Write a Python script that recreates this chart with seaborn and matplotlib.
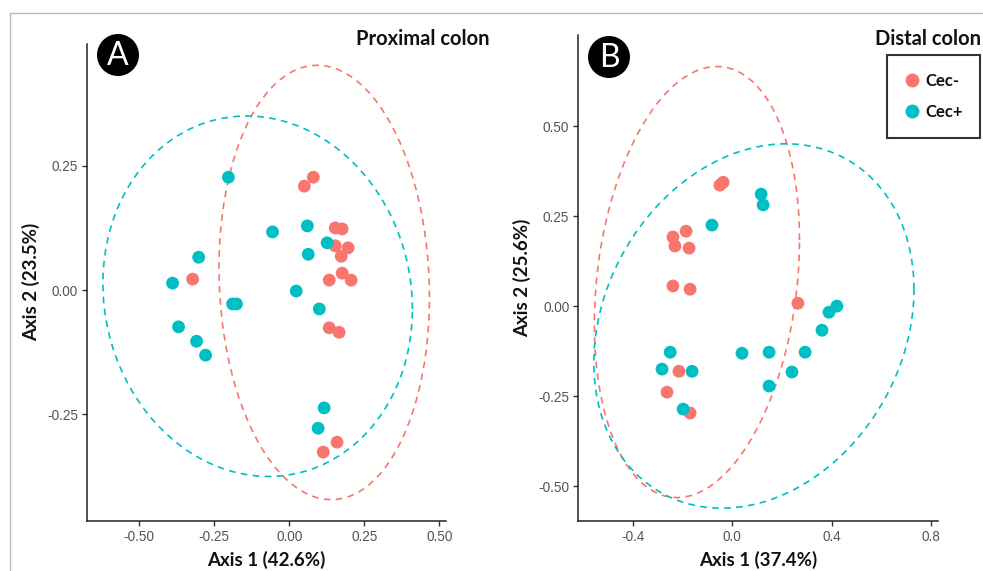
import numpy as np
import pandas as pd
import matplotlib
matplotlib.use("Agg")
import matplotlib.pyplot as plt
from matplotlib.lines import Line2D
from matplotlib.patches import Ellipse
import seaborn as sns

# ---------------- data ----------------
groups = ["Cec-", "Cec+"]
palette = ["#F8766D", "#00BFC4"]

# Panel A: Proximal colon
a_neg_x = [-0.322, 0.080, 0.050, 0.153, 0.176, 0.153, 0.196, 0.173, 0.176, 0.133, 0.206, 0.133, 0.166, 0.159, 0.113]
a_neg_y = [0.022, 0.227, 0.209, 0.125, 0.123, 0.089, 0.085, 0.068, 0.034, 0.020, 0.020, -0.076, -0.085, -0.306, -0.326]
a_pos_x = [-0.203, -0.056, -0.389, -0.302, -0.189, -0.176, -0.369, -0.309, -0.279, 0.060, 0.126, 0.063, 0.023, 0.100, 0.116, 0.096]
a_pos_y = [0.227, 0.117, 0.014, 0.066, -0.028, -0.028, -0.074, -0.103, -0.131, 0.129, 0.095, 0.072, -0.002, -0.038, -0.237, -0.278]

# Panel B: Distal colon
b_neg_x = [-0.050, -0.037, -0.239, -0.186, -0.231, -0.174, -0.239, -0.170, -0.215, -0.263, -0.170, 0.264]
b_neg_y = [0.336, 0.344, 0.192, 0.208, 0.167, 0.161, 0.056, 0.047, -0.181, -0.239, -0.297, 0.008]
b_pos_x = [-0.082, -0.250, -0.283, -0.162, -0.198, 0.116, 0.124, 0.421, 0.389, 0.361, 0.039, 0.148, 0.293, 0.240, 0.148]
b_pos_y = [0.225, -0.128, -0.175, -0.181, -0.286, 0.311, 0.281, 0.000, -0.017, -0.067, -0.131, -0.128, -0.128, -0.183, -0.222]

a_xticks = [-0.50, -0.25, 0.00, 0.25, 0.50]
a_yticks = [-0.25, 0.00, 0.25]
b_xticks = [-0.4, 0.0, 0.4, 0.8]
b_yticks = [-0.50, -0.25, 0.00, 0.25, 0.50]

a_xlabel = "Axis 1 (42.6%)"
a_ylabel = "Axis 2 (23.5%)"
b_xlabel = "Axis 1 (37.4%)"
b_ylabel = "Axis 2 (25.6%)"
a_title = "Proximal colon"
b_title = "Distal colon"

BOLD_FONT = ["Lato", "DejaVu Sans"]
TICK_FONT = ["Liberation Sans", "DejaVu Sans"]


def make_df(nx, ny, px, py):
    return pd.DataFrame({
        "x": list(nx) + list(px),
        "y": list(ny) + list(py),
        "group": [groups[0]] * len(nx) + [groups[1]] * len(px),
    })


def ellipse_pts(xs, ys, level=0.95, segments=101):
    # ggplot2 stat_ellipse(type = "norm")
    data = np.column_stack([xs, ys])
    center = data.mean(axis=0)
    cov = np.cov(data, rowvar=False, ddof=1)
    R = np.linalg.cholesky(cov).T
    m = len(xs) - 1
    qf = (m / 2.0) * ((1 - level) ** (-2.0 / m) - 1)
    radius = np.sqrt(2 * qf)
    ang = np.linspace(0, 2 * np.pi, segments)
    circ = np.column_stack([np.cos(ang), np.sin(ang)])
    e = center + radius * (circ @ R)
    return e[:, 0], e[:, 1]


sns.set_theme(style="ticks")
plt.rcParams["font.family"] = ["Open Sans", "DejaVu Sans"]

W, H = 983, 571
fig = plt.figure(figsize=(W / 100, H / 100), dpi=100)

ax_a = fig.add_axes([87 / W, 1 - 520.7 / H, (446 - 87) / W, (520.7 - 44) / H])
ax_b = fig.add_axes([578.3 / W, 1 - 520.7 / H, (938 - 578.3) / W, (520.7 - 35) / H])

panels = [
    (ax_a, make_df(a_neg_x, a_neg_y, a_pos_x, a_pos_y), (-0.674, 0.522), (-0.464, 0.495),
     a_xticks, a_yticks, a_xlabel, a_ylabel, "{:.2f}", "{:.2f}"),
    (ax_b, make_df(b_neg_x, b_neg_y, b_pos_x, b_pos_y), (-0.62, 0.828), (-0.596, 0.753),
     b_xticks, b_yticks, b_xlabel, b_ylabel, "{:.1f}", "{:.2f}"),
]

for ax, df, xl, yl, xt, yt, xlab, ylab, xf, yf in panels:
    for g, c in zip(groups, palette):
        sub = df[df["group"] == g]
        ex, ey = ellipse_pts(sub["x"].values, sub["y"].values)
        ax.plot(ex, ey, color=c, lw=1.2, ls=(0, (4, 3.2)), zorder=1)
    sns.scatterplot(data=df, x="x", y="y", hue="group", hue_order=groups,
                    palette=palette, s=85, linewidth=0, ax=ax, legend=False, zorder=3)
    ax.set_xlim(*xl)
    ax.set_ylim(*yl)
    ax.set_xticks(xt)
    ax.set_xticklabels([xf.format(v) for v in xt], family=TICK_FONT)
    ax.set_yticks(yt)
    ax.set_yticklabels([yf.format(v) for v in yt], family=TICK_FONT)
    ax.tick_params(axis="both", colors="#333333", labelcolor="#555555", labelsize=9.8,
                   length=3.5, width=1, direction="out", pad=3)
    for s in ["top", "right"]:
        ax.spines[s].set_visible(False)
    for s in ["left", "bottom"]:
        ax.spines[s].set_color("#222222")
        ax.spines[s].set_linewidth(1.1)
    ax.set_xlabel(xlab, fontsize=13.5, fontweight="bold", color="#111111", labelpad=5,
                  family=BOLD_FONT)
    ax.set_ylabel(ylab, fontsize=13.5, fontweight="bold", color="#111111", labelpad=5,
                  family=BOLD_FONT)
    ax.set_facecolor("white")

# titles
fig.text(489 / W, 1 - 39 / H, a_title, ha="right", va="center", fontsize=14.5,
         fontweight="bold", color="#111111", family=BOLD_FONT)
fig.text(981 / W, 1 - 39 / H, b_title, ha="right", va="center", fontsize=14.5,
         fontweight="bold", color="#111111", family=BOLD_FONT)

# panel badges
for (cx, cy, letter) in [(118, 55, "A"), (609, 57, "B")]:
    fig.add_artist(Ellipse((cx / W, 1 - cy / H), 42 / W, 42 / H, transform=fig.transFigure,
                           facecolor="black", edgecolor="none"))
    fig.text(cx / W, 1 - (cy + 1) / H, letter, ha="center", va="center", fontsize=23,
             color="white", family=["Lato", "DejaVu Sans"])

# legend
handles = [Line2D([0], [0], marker="o", ls="", markersize=10, markerfacecolor=c,
                  markeredgewidth=0) for c in palette]
leg = fig.legend(handles, groups, loc="upper right", bbox_to_anchor=(980 / W, 1 - 55 / H),
                 frameon=True, fancybox=False, edgecolor="black",
                 prop={"family": BOLD_FONT, "weight": "bold", "size": 12},
                 handletextpad=0.35, borderpad=1.05, labelspacing=0.95, handlelength=0.9,
                 borderaxespad=0)
leg.get_frame().set_linewidth(1.5)
for t in leg.get_texts():
    t.set_color("#111111")

# thin frame around the image
fig.add_artist(Line2D([10 / W, 1], [1 - 13 / H, 1 - 13 / H], transform=fig.transFigure,
                      color="#BBBBBB", lw=1))
fig.add_artist(Line2D([10 / W, 10 / W], [0, 1 - 13 / H], transform=fig.transFigure,
                      color="#BBBBBB", lw=1))

fig.savefig("out.png", dpi=100, facecolor="white")
